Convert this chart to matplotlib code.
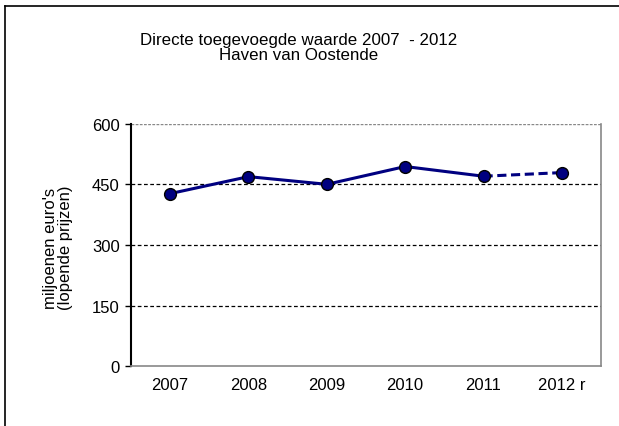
import matplotlib.pyplot as plt
from matplotlib.lines import Line2D

plt.rcParams['font.family'] = ['Liberation Sans', 'DejaVu Sans']

years = ["2007", "2008", "2009", "2010", "2011", "2012 r"]
waarde = [427, 469, 450, 494, 470, 479]
yticks = [0, 150, 300, 450, 600]

navy = "#000080"

fig = plt.figure(figsize=(6.19, 4.27), dpi=100)
ax = fig.add_axes([0.2116, 0.140, 0.7594, 0.568])

x = list(range(len(years)))
# vaste reeks 2007-2011, raming 2012 gestreept
ax.plot(x[:5], waarde[:5], color=navy, lw=2.2, zorder=3)
ax.plot(x[4:], waarde[4:], color=navy, lw=2.2, ls=(0, (3, 1.5)), zorder=3)
ax.plot(x, waarde, ls="none", marker="o", ms=8.5, mfc=navy, mec="black",
        mew=1, zorder=4)

ax.set_xlim(-0.5, 5.5)
ax.set_ylim(0, 600)
ax.set_yticks(yticks)
ax.set_xticks(x)
ax.set_xticklabels(years)
ax.tick_params(axis="x", length=0, labelsize=12, pad=8)
ax.tick_params(axis="y", length=4, width=1, labelsize=12, pad=4)

for v in yticks[1:-1]:
    ax.axhline(v, color="black", lw=0.9, ls=(0, (3, 2)), zorder=1)
ax.axhline(600, color="#888888", lw=1, ls=(0, (2, 1)), zorder=2)

for s in ["right", "bottom", "top"]:
    ax.spines[s].set_color("#888888")
    ax.spines[s].set_linewidth(1.2)
ax.spines["top"].set_visible(False)
ax.spines["left"].set_linewidth(1.5)
ax.spines["left"].set_color("black")

fig.text(58 / 619, 1 - 248 / 427, "miljoenen euro's\n(lopende prijzen)",
         rotation=90, ha="center", va="center", fontsize=12, linespacing=1.0)

fig.text(299 / 619, 1 - 48 / 427,
         "Directe toegevoegde waarde 2007  - 2012\nHaven van Oostende",
         ha="center", va="center", fontsize=12.2, linespacing=1.05)

# kader rond de figuur (rechts en onder buiten beeld)
fig.add_artist(Line2D([5 / 619, 5 / 619], [0, 1 - 7 / 427],
                      transform=fig.transFigure, color="black", lw=1.2))
fig.add_artist(Line2D([5 / 619, 1], [1 - 7 / 427, 1 - 7 / 427],
                      transform=fig.transFigure, color="black", lw=1.2))

fig.savefig("out.png", dpi=100)
